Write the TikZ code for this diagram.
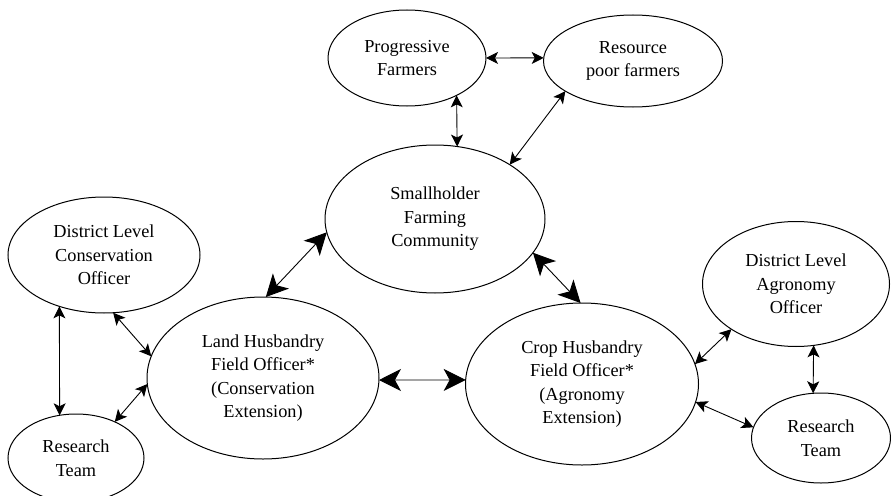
\documentclass[tikz,border=0pt]{standalone}
\usepackage{fontspec}
\setmainfont{Liberation Serif}
\usetikzlibrary{shapes.geometric,arrows.meta}
\begin{document}
\begin{tikzpicture}[x=1pt,y=-1pt,
  ell/.style={ellipse,draw,line width=1pt,inner sep=0pt,outer sep=0pt,align=center,
    font=\fontsize{18.3}{23.5}\selectfont},
  small/.style={line width=0.9pt,{Stealth[length=12pt,width=12pt,inset=3pt]}-{Stealth[length=12pt,width=12pt,inset=3pt]}},
  big/.style={line width=0.9pt,{Stealth[length=22pt,width=22pt,inset=6pt]}-{Stealth[length=22pt,width=22pt,inset=6pt]}}]
\useasboundingbox (0,0) rectangle (891,495);
\node[ell,minimum width=158pt,minimum height=96pt] (pf) at (407,58) {Progressive\\Farmers};
\node[ell,minimum width=179pt,minimum height=92pt] (rpf) at (633,61) {Resource\\poor farmers};
\node[ell,minimum width=220pt,minimum height=148pt] (sfc) at (435,219) {Smallholder\\Farming\\Community};
\node[ell,minimum width=192pt,minimum height=116pt] (dco) at (104,255) {District Level\\Conservation\\Officer};
\node[ell,minimum width=136pt,minimum height=88pt] (rtl) at (76,458) {Research\\Team};
\node[ell,minimum width=232pt,minimum height=162pt] (lh) at (263,378) {Land Husbandry\\Field Officer*\\(Conservation\\Extension)};
\node[ell,minimum width=233pt,minimum height=162pt] (ch) at (582,384) {Crop Husbandry\\Field Officer*\\(Agronomy\\Extension)};
\node[ell,minimum width=187pt,minimum height=125pt] (dao) at (796,284) {District Level\\Agronomy\\Officer};
\node[ell,minimum width=139pt,minimum height=90pt] (rtr) at (821,438) {Research\\Team};

\draw[small] (pf.0) -- (rpf.178);
\draw[small] (pf.-37) -- (sfc.73);
\draw[small] (rpf.204) -- (sfc.36);
\draw[big] (sfc.187) -- (lh.88);
\draw[big] (sfc.-19) -- (ch.91);
\draw[big] (lh.-1) -- (ch.178);
\draw[small] (dco.229) -- (rtl.111);
\draw[small] (dco.-81) -- (lh.169);
\draw[small] (rtl.43) -- (lh.183);
\draw[small] (dao.215) -- (ch.10);
\draw[small] (dao.-74) -- (rtr.100);
\draw[small] (ch.-9) -- (rtr.171);
\end{tikzpicture}
\end{document}
